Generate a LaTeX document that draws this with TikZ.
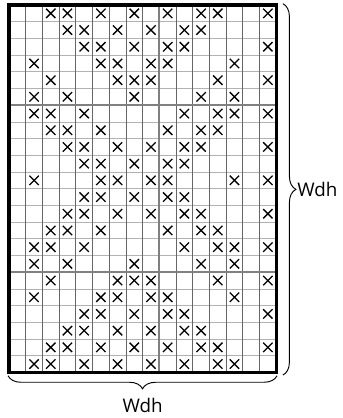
\documentclass[tikz,border=0pt]{standalone}
\usepackage{fontspec}
\setmainfont{Open Sans}
\usetikzlibrary{positioning, decorations.pathreplacing}

\begin{document}
\begin{tikzpicture}[
    x=0.5cm, y=0.5cm,
    hline/.style={draw=black!30, line width=0.6pt},
    vline/.style={draw=black!60, line width=0.6pt},
    majorline/.style={draw=black!50, line width=1.5pt},
    frame/.style={draw=black, line width=2.6pt},
    cross/.style={draw=black, line width=1.1pt},
    brace/.style={decorate, decoration={brace, amplitude=0.39cm}, line width=0.8pt},
    dimlabel/.style={font=\fontsize{16}{18}\selectfont, inner sep=0pt}
]
\useasboundingbox (-0.54,0.30) rectangle (19.94,-24.73);

% grid
\foreach \i in {1,...,21}
    \draw[hline] (0,-\i) -- (16,-\i);
\foreach \i in {1,...,15}
    \draw[vline] (\i,0) -- (\i,-22);
\draw[majorline] (9,0) -- (9,-22);
\draw[majorline] (0,-6) -- (16,-6) (0,-16) -- (16,-16);

% crosses, row by row
\foreach \r/\cols in {
    1/{3,4,6,8,10,12,13,16},
    2/{4,5,7,9,11,12},
    3/{5,6,8,10,11,16},
    4/{2,6,7,9,10,14},
    5/{3,7,8,9,13,16},
    6/{2,4,8,12,14},
    7/{2,3,5,11,13,14,16},
    8/{3,4,6,10,12,13},
    9/{4,5,7,9,11,12,16},
    10/{5,6,8,10,11},
    11/{2,6,7,9,10,14,16},
    12/{5,6,8,10,11},
    13/{4,5,7,9,11,12,16},
    14/{3,4,6,10,12,13},
    15/{2,3,5,11,13,14,16},
    16/{2,4,8,12,14},
    17/{3,7,8,9,13,16},
    18/{2,6,7,9,10,14},
    19/{5,6,8,10,11,16},
    20/{4,5,7,9,11,12},
    21/{3,4,6,8,10,12,13,16},
    22/{2,3,5,7,9,11,13,14}}
    \foreach \c in \cols
        \draw[cross] (\c-0.5,-\r+0.5) +(-0.28,-0.28) -- +(0.28,0.28)
                                      +(-0.28,0.28) -- +(0.28,-0.28);

\draw[frame] (0,0) rectangle (16,-22);

% braces
\coordinate (rtop) at (16.4,0.08);
\coordinate (rbot) at (16.4,-22.16);
\coordinate (bright) at (16.05,-22.2);
\coordinate (bleft) at (-0.06,-22.2);

\draw[brace] (rtop) -- (rbot)
    node[dimlabel, midway, right=0.42cm] (wdhright) {Wdh};
\draw[brace] (bright) -- (bleft)
    node[dimlabel, midway, below=0.66cm] (wdhbottom) {Wdh};

\end{tikzpicture}
\end{document}
